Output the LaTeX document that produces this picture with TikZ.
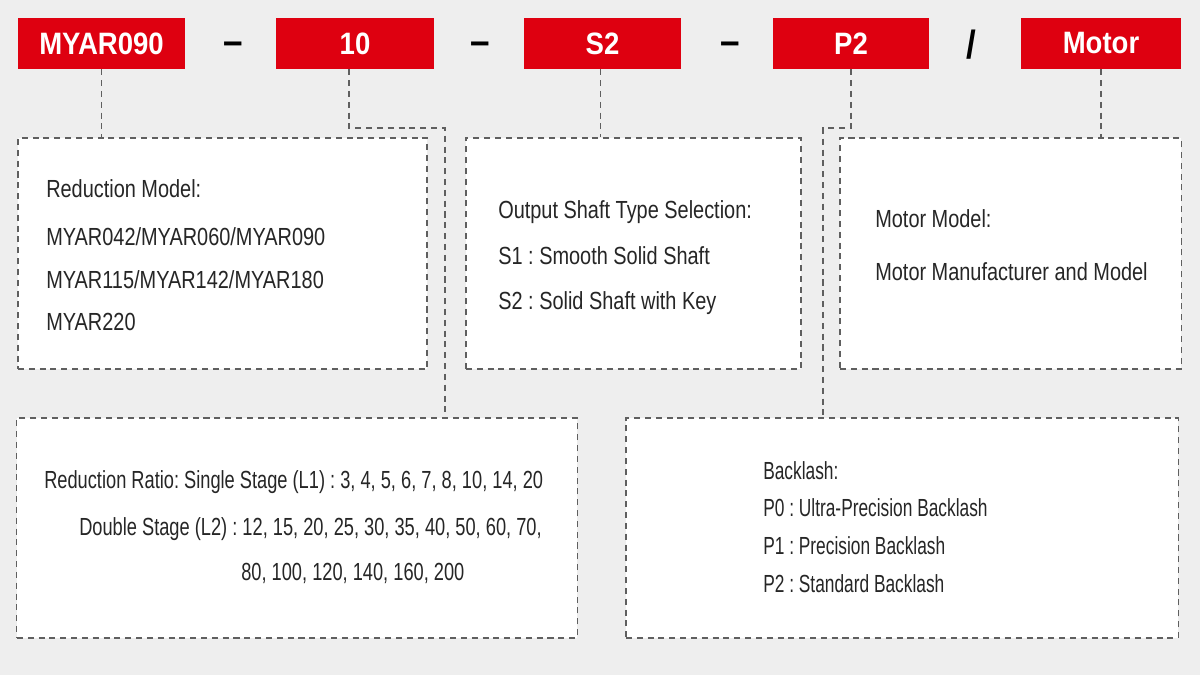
\documentclass[tikz,border=0pt]{standalone}
\usepackage{fontspec}
\setmainfont{Liberation Sans}[FakeStretch=0.805]
\newfontfamily\campofonte{Liberation Sans}[FakeStretch=0.89]
\newfontfamily\razaofonte{Liberation Sans}[FakeStretch=0.737]
\newfontfamily\folgafonte{Liberation Sans}[FakeStretch=0.70]
\usepackage{tikz}
\usetikzlibrary{positioning}
\definecolor{vermelho}{RGB}{222,0,16}
\definecolor{fundo}{RGB}{238,238,238}
\definecolor{tracejado}{RGB}{95,95,95}
\definecolor{escrita}{RGB}{38,38,38}

\begin{document}
\frenchspacing
\begin{tikzpicture}[x=0.025cm,y=-0.025cm]
\tikzstyle{campo}=[rectangle, fill=vermelho, text=white, inner sep=0pt, minimum height=1.275cm, font=\campofonte\fontsize{22}{26}\selectfont\bfseries]
\tikzstyle{traco}=[inner sep=0pt, text=black, font=\campofonte\fontsize{28}{30}\selectfont\bfseries]
\tikzstyle{quadro}=[rectangle, draw=tracejado, fill=white, line width=0.8pt, dash pattern=on 4.3pt off 3.4pt, inner sep=0pt]
\tikzstyle{ligacao}=[draw=tracejado, line width=0.8pt, dash pattern=on 4.3pt off 3.4pt]
\tikzstyle{texto}=[anchor=base west, inner sep=0pt, text=escrita, font=\fontsize{17.6}{21}\selectfont]
 \fill[fundo] (0,0) rectangle (1200,675);
 \node[campo, minimum width=4.175cm] (modelo) at (101.5,43.5) {MYAR090};
 \node[campo, minimum width=3.95cm] (razao) at (355,43.5) {10};
 \node[campo, minimum width=3.925cm] (eixo) at (602.5,43.5) {S2};
 \node[campo, minimum width=3.9cm] (folga) at (851,43.5) {P2};
 \node[campo, minimum width=4cm] (motor) at (1101,43.5) {Motor};
 \node[traco] (traco1) at (233,48) {–};
 \node[traco] (traco2) at (480,48) {–};
 \node[traco] (traco3) at (730,48) {–};
 \node[traco] (barra) at (971,45) {/};
 \node[quadro, minimum width=10.225cm, minimum height=5.775cm] (modelobox) at (222.5,253.5) {};
 \node[quadro, minimum width=8.375cm, minimum height=5.775cm] (eixobox) at (633.5,253.5) {};
 \node[quadro, minimum width=8.525cm, minimum height=5.775cm] (motorbox) at (1010.5,253.5) {};
 \node[quadro, minimum width=14cm, minimum height=5.5cm] (razaobox) at (297,528) {};
 \node[quadro, minimum width=13.8cm, minimum height=5.5cm] (folgabox) at (902,528) {};
 \coordinate (dobra1) at (445,128);
 \coordinate (dobra2) at (823,128);
 \draw[ligacao] (modelo.south) -- (modelo.south |- modelobox.north);
 \draw[ligacao] ([xshift=-0.15cm]razao.south) |- (dobra1) -- (dobra1 |- razaobox.north);
 \draw[ligacao] ([xshift=-0.04cm]eixo.south) -- ([xshift=-0.04cm]eixo.south |- eixobox.north);
 \draw[ligacao] (folga.south) |- (dobra2) -- (dobra2 |- folgabox.north);
 \draw[ligacao] (motor.south) -- (motor.south |- motorbox.north);
 \node[texto] (modelo1) at (46,198) {Reduction Model:};
 \node[texto] (modelo2) at (46,245) {MYAR042/MYAR060/MYAR090};
 \node[texto] (modelo3) at (46,288) {MYAR115/MYAR142/MYAR180};
 \node[texto] (modelo4) at (46,330) {MYAR220};
 \node[texto] (eixo1) at (498,219) {Output Shaft Type Selection:};
 \node[texto] (eixo2) at (498,264) {S1 : Smooth Solid Shaft};
 \node[texto] (eixo3) at (498,309) {S2 : Solid Shaft with Key};
 \node[texto] (motor1) at (875,228) {Motor Model:};
 \node[texto] (motor2) at (875,280) {Motor Manufacturer and Model};
 \node[texto, font=\razaofonte\fontsize{17.6}{21}\selectfont] (razao1) at (44,488) {Reduction Ratio: Single Stage (L1) : 3, 4, 5, 6, 7, 8, 10, 14, 20};
 \node[texto, font=\razaofonte\fontsize{17.6}{21}\selectfont] (razao2) at (79,535) {Double Stage (L2) : 12, 15, 20, 25, 30, 35, 40, 50, 60, 70,};
 \node[texto, font=\razaofonte\fontsize{17.6}{21}\selectfont] (razao3) at (241,580) {80, 100, 120, 140, 160, 200};
 \node[texto, font=\folgafonte\fontsize{17.6}{21}\selectfont] (folga1) at (763,479) {Backlash:};
 \node[texto, font=\folgafonte\fontsize{17.6}{21}\selectfont] (folga2) at (763,516) {P0 : Ultra-Precision Backlash};
 \node[texto, font=\folgafonte\fontsize{17.6}{21}\selectfont] (folga3) at (763,554) {P1 : Precision Backlash};
 \node[texto, font=\folgafonte\fontsize{17.6}{21}\selectfont] (folga4) at (763,592) {P2 : Standard Backlash};
\end{tikzpicture}
\end{document}
